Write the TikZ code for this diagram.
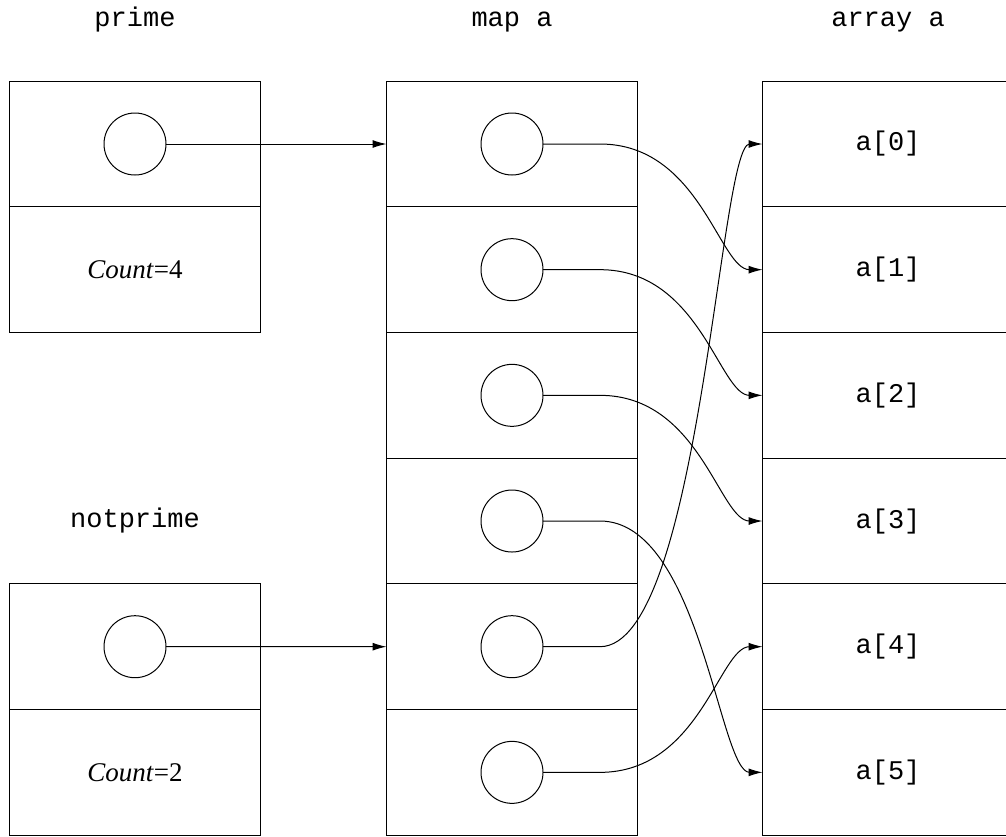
\documentclass[tikz,border=0pt]{standalone}
\usepackage{fontspec}
\setmainfont{Liberation Serif}
\setmonofont{Liberation Mono}
\usetikzlibrary{positioning,chains,arrows.meta}
\newcommand\figfont{\fontsize{27}{32}\selectfont}

\begin{document}
\begin{tikzpicture}[x=1pt, y=-1pt, line width=1pt, node distance=0pt,
    cell/.style={rectangle, draw, minimum width=251pt, minimum height=125.67pt, inner sep=0pt, outer sep=0pt, font=\figfont},
    ptr/.style={circle, draw, minimum size=62pt, inner sep=0pt, outer sep=0pt},
    tt/.style={font=\figfont\ttfamily},
    >={Latex[length=14pt,width=8pt]}]
            \useasboundingbox (0,0) rectangle (1006,836);
            \clip (0,0) rectangle (1006,836);
            \node[tt, anchor=base] (tprime) at (135,26) {prime};
            \node[tt, anchor=base] (tmap) at (512,26) {map a};
            \node[tt, anchor=base] (tarr) at (888,26) {array a};
            \node[tt, anchor=base] (tnot) at (135,527) {notprime};
            \node[cell] (p0) at (135,144) {};
            \node[cell, below=of p0] (p1) {\textit{Count}=4};
            \node[ptr] (pc) at (p0) {};
            \node[cell] (n0) at (135,646.7) {};
            \node[cell, below=of n0] (n1) {\textit{Count}=2};
            \node[ptr] (nc) at (n0) {};
            \begin{scope}[start chain=map going below]
            \node[cell, on chain] (m0) at (512,144) {};
            \node[cell, on chain] (m1) {};
            \node[cell, on chain] (m2) {};
            \node[cell, on chain] (m3) {};
            \node[cell, on chain] (m4) {};
            \node[cell, on chain] (m5) {};
            \end{scope}
            \node[ptr] (c0) at (m0) {};
            \node[ptr] (c1) at (m1) {};
            \node[ptr] (c2) at (m2) {};
            \node[ptr] (c3) at (m3) {};
            \node[ptr] (c4) at (m4) {};
            \node[ptr] (c5) at (m5) {};
            \begin{scope}[start chain=arr going below]
            \node[cell, tt, on chain] (a0) at (888,144) {a[0]};
            \node[cell, tt, on chain] (a1) {a[1]};
            \node[cell, tt, on chain] (a2) {a[2]};
            \node[cell, tt, on chain] (a3) {a[3]};
            \node[cell, tt, on chain] (a4) {a[4]};
            \node[cell, tt, on chain] (a5) {a[5]};
            \end{scope}
            \draw[->] (pc) -- (m0);
            \draw[->] (nc) -- (m4);
            \draw[->] (c0.east) -- ++(57,0) .. controls +(100,0) and +(-30,0) .. ([xshift=-13pt]a1.west) -- (a1.west);
            \draw[->] (c1.east) -- ++(57,0) .. controls +(100,0) and +(-30,0) .. ([xshift=-13pt]a2.west) -- (a2.west);
            \draw[->] (c2.east) -- ++(57,0) .. controls +(100,0) and +(-30,0) .. ([xshift=-13pt]a3.west) -- (a3.west);
            \draw[->] (c3.east) -- ++(57,0) .. controls +(100,0) and +(-30,0) .. ([xshift=-13pt]a5.west) -- (a5.west);
            \draw[->] (c4.east) -- ++(57,0) .. controls +(100,0) and +(-30,0) .. ([xshift=-13pt]a0.west) -- (a0.west);
            \draw[->] (c5.east) -- ++(57,0) .. controls +(100,0) and +(-30,0) .. ([xshift=-13pt]a4.west) -- (a4.west);
        \end{tikzpicture}
\end{document}
